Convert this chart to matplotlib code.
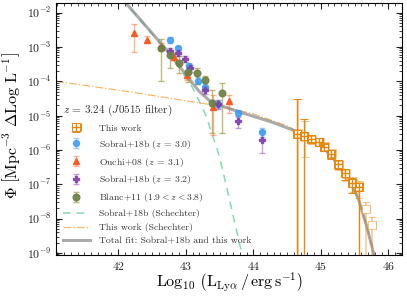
import numpy as np
import matplotlib
matplotlib.use("Agg")
import matplotlib.pyplot as plt
from matplotlib.colors import to_rgba
from matplotlib.ticker import MultipleLocator, FixedLocator, LogLocator, NullFormatter

plt.rcParams["font.family"] = "serif"
plt.rcParams["font.serif"] = ["cmr10"]
plt.rcParams["mathtext.fontset"] = "cm"
plt.rcParams["axes.formatter.use_mathtext"] = True
plt.rcParams["axes.unicode_minus"] = False

# This work (dark + light sets), log10 L and log10 Phi, errors in dex
tw_L = [44.65, 44.75, 44.86, 44.97, 45.05, 45.15, 45.26, 45.36, 45.46, 45.56]
tw_log = [-5.54, -5.60, -5.68, -5.76, -5.92, -6.12, -6.41, -6.68, -6.97, -7.09]
tw_up = [1.03, 0.49, 0.10, 0.10, 0.10, 0.11, 0.12, 0.13, 0.15, 0.12]
tw_dn = [9.0, 9.0, 0.10, 0.12, 0.12, 0.14, 0.16, 0.20, 0.28, 9.0]

tw2_L = [44.66, 44.76, 44.87, 44.98, 45.06, 45.16, 45.27, 45.37, 45.47, 45.57, 45.67, 45.76]
tw2_log = [-5.52, -5.62, -5.70, -5.78, -5.90, -6.10, -6.43, -6.70, -6.95, -7.05, -7.73, -8.19]
tw2_up = [1.0, 0.45, 0.10, 0.10, 0.10, 0.11, 0.12, 0.13, 0.15, 0.15, 0.20, 0.25]
tw2_dn = [9.0, 0.6, 0.12, 0.12, 0.12, 0.14, 0.16, 0.20, 0.28, 0.35, 9.0, 9.0]

# Sobral+18b z=3.0
s30_L = [42.77, 42.88, 43.05, 43.18, 43.29, 43.47, 43.78, 44.13]
s30_log = [-2.80, -3.04, -3.55, -3.98, -4.16, -4.66, -4.93, -5.49]
s30_err = [0.08, 0.08, 0.08, 0.10, 0.10, 0.12, 0.10, 0.12]

# Ouchi+08 z=3.1
o_L = [42.23, 42.42, 42.63, 42.82, 43.02, 43.41, 43.64]
o_log = [-2.59, -2.80, -2.99, -3.28, -3.82, -4.74, -4.59]
o_up = [0.26, 0.13, 0.10, 0.10, 0.10, 0.34, 0.19]
o_dn = [0.56, 0.06, 0.10, 0.10, 0.15, 0.82, 0.34]

# Sobral+18b z=3.2
s32_L = [42.77, 42.88, 42.99, 43.07, 43.28, 43.48, 43.78, 44.13]
s32_log = [-3.11, -3.18, -3.35, -3.62, -4.25, -4.67, -5.16, -5.71]
s32_up = [0.08, 0.08, 0.08, 0.10, 0.10, 0.12, 0.15, 0.25]
s32_dn = [0.08, 0.08, 0.08, 0.10, 0.12, 0.15, 0.21, 0.39]

# Blanc+11
b_L = [42.63, 42.77, 42.90, 43.03, 43.16, 43.28, 43.39, 43.53]
b_log = [-3.03, -3.23, -3.46, -3.72, -3.77, -3.96, -4.64, -4.33]
b_up = [0.26, 0.15, 0.20, 0.20, 0.15, 0.12, 0.39, 0.27]
b_dn = [0.95, 0.38, 0.30, 0.30, 0.30, 0.25, 0.87, 1.19]

# fit curves
sch_sob_L = [41.9, 42.1, 42.4, 42.7, 42.9, 43.1, 43.3, 43.5, 43.7, 43.85]
sch_sob_log = [-1.25, -1.70, -2.38, -3.08, -3.60, -4.18, -5.00, -6.20, -7.90, -9.20]

sch_tw_L = [41.08, 41.5, 42.0, 42.5, 43.0, 43.5, 44.0, 44.5, 45.0, 45.24, 45.44, 45.56, 45.68, 45.78, 45.85]
sch_tw_log = [-4.0, -4.12, -4.26, -4.41, -4.57, -4.72, -4.95, -5.30, -5.85, -6.39, -6.93, -7.46, -8.24, -9.01, -9.6]

tot_L = [42.05, 42.4, 42.7, 42.9, 43.07, 43.2, 43.35, 43.5, 43.8, 44.26, 44.65, 45.0, 45.24, 45.44, 45.56, 45.68, 45.78, 45.85]
tot_log = [-1.58, -2.37, -3.05, -3.55, -3.98, -4.30, -4.56, -4.70, -4.90, -5.18, -5.47, -5.85, -6.39, -6.93, -7.46, -8.24, -9.01, -9.6]

x_ticks = [42, 43, 44, 45, 46]
y_ticks = [1e-9, 1e-8, 1e-7, 1e-6, 1e-5, 1e-4, 1e-3, 1e-2]


def yerrs(logv, up, dn):
    v = 10 ** np.array(logv)
    return [v - 10 ** (np.array(logv) - np.array(dn)), 10 ** (np.array(logv) + np.array(up)) - v]


fig = plt.figure(figsize=(4.07, 2.98), dpi=100)
ax = fig.add_axes([0.1376, 0.1443, 0.8501, 0.8457])
ax.set_yscale("log")

orange = "#e8870e"
c_blue = "#3d9cf5"
c_red = "#fb5a23"
c_purple = "#7d3cae"
c_olive = "#6d7f45"

# lines
l_sob, = ax.plot(sch_sob_L, 10 ** np.array(sch_sob_log), ls=(0, (5, 4)), color="#86d9b0", lw=1.1, zorder=1)
l_tw, = ax.plot(sch_tw_L, 10 ** np.array(sch_tw_log), ls="-.", color="#f6b86e", lw=0.9, zorder=1)
l_tot, = ax.plot(tot_L, 10 ** np.array(tot_log), color="#7f7f7f", alpha=0.65, lw=2.2, zorder=2)

# this work
ax.errorbar(tw2_L, 10 ** np.array(tw2_log), xerr=0.05, yerr=yerrs(tw2_log, tw2_up, tw2_dn),
            fmt="s", ms=5.5, mfc="white", mec=to_rgba(orange, 0.45), ecolor=to_rgba(orange, 0.45),
            elinewidth=1.1, capsize=3, mew=0.8, zorder=3)
h_tw = ax.errorbar(tw_L, 10 ** np.array(tw_log), xerr=0.05, yerr=yerrs(tw_log, tw_up, tw_dn),
                   fmt="s", ms=5.5, mfc="none", mec=orange, ecolor=orange,
                   elinewidth=1.0, capsize=3, mew=0.7, zorder=4)

kw = dict(elinewidth=1, capsize=2.5, capthick=1, zorder=5)
h_s30 = ax.errorbar(s30_L, 10 ** np.array(s30_log), yerr=yerrs(s30_log, s30_err, s30_err),
                    fmt="o", ms=4.3, color=to_rgba(c_blue, 0.85), ecolor=to_rgba(c_blue, 0.45), **kw)
h_o = ax.errorbar(o_L, 10 ** np.array(o_log), yerr=yerrs(o_log, o_up, o_dn),
                  fmt="^", ms=4.3, color=c_red, ecolor=to_rgba(c_red, 0.45), **kw)
h_s32 = ax.errorbar(s32_L, 10 ** np.array(s32_log), yerr=yerrs(s32_log, s32_up, s32_dn),
                    fmt="P", ms=4.3, color=to_rgba(c_purple, 0.85), ecolor=to_rgba(c_purple, 0.45), **kw)
h_b = ax.errorbar(b_L, 10 ** np.array(b_log), yerr=yerrs(b_log, b_up, b_dn),
                  fmt="o", ms=4.8, color=to_rgba(c_olive, 0.9), ecolor=to_rgba("#9a9a3c", 0.65), **kw)

ax.set_xlim(41.08, 46.2)
ax.set_ylim(8.7e-10, 1.9e-2)
ax.xaxis.set_major_locator(FixedLocator(x_ticks))
ax.xaxis.set_minor_locator(MultipleLocator(0.1))
ax.yaxis.set_major_locator(FixedLocator(y_ticks))
ax.yaxis.set_minor_locator(LogLocator(base=10, subs=np.arange(2, 10), numticks=20))
ax.yaxis.set_minor_formatter(NullFormatter())
ax.tick_params(which="both", direction="in", top=True, right=True, labelsize=8.5, colors="#222222")
ax.tick_params(which="major", length=4, width=0.8)
ax.tick_params(which="minor", length=2, width=0.6)
for s in ax.spines.values():
    s.set_linewidth(0.8)

ax.set_xlabel(r"$\mathrm{Log_{10}}\ \left(\mathrm{L_{Ly\alpha}\,/\,erg\,s^{-1}}\right)$", fontsize=11.5)
ax.xaxis.set_label_coords(0.5, -0.062)
ax.set_ylabel(r"$\Phi\ \left[\mathrm{Mpc^{-3}\ \Delta Log\ L^{-1}}\right]$", fontsize=11.5)
ax.yaxis.set_label_coords(-0.098, 0.515)

ax.text(0.02, 0.575, r"$z$ = 3.24 ($J0515$ filter)", transform=ax.transAxes, fontsize=8,
        va="center", ha="left", color="#333333")

handles = [h_tw, h_s30, h_o, h_s32, h_b, l_sob, l_tw, l_tot]
labels = ["This work", r"Sobral+18b ($z$ = 3.0)", r"Ouchi+08 ($z$ = 3.1)", r"Sobral+18b ($z$ = 3.2)",
          r"Blanc+11 ($1.9 < z < 3.8$)", "Sobral+18b (Schechter)", "This work (Schechter)",
          "Total fit: Sobral+18b and this work"]
leg = ax.legend(handles, labels, loc="lower left", bbox_to_anchor=(0.0, 0.01), frameon=False,
                fontsize=7.0, handlelength=2.8, handletextpad=0.9, labelspacing=0.5,
                borderaxespad=0.3)
for t in leg.get_texts():
    t.set_color("#333333")

fig.savefig("out.png", dpi=100)
